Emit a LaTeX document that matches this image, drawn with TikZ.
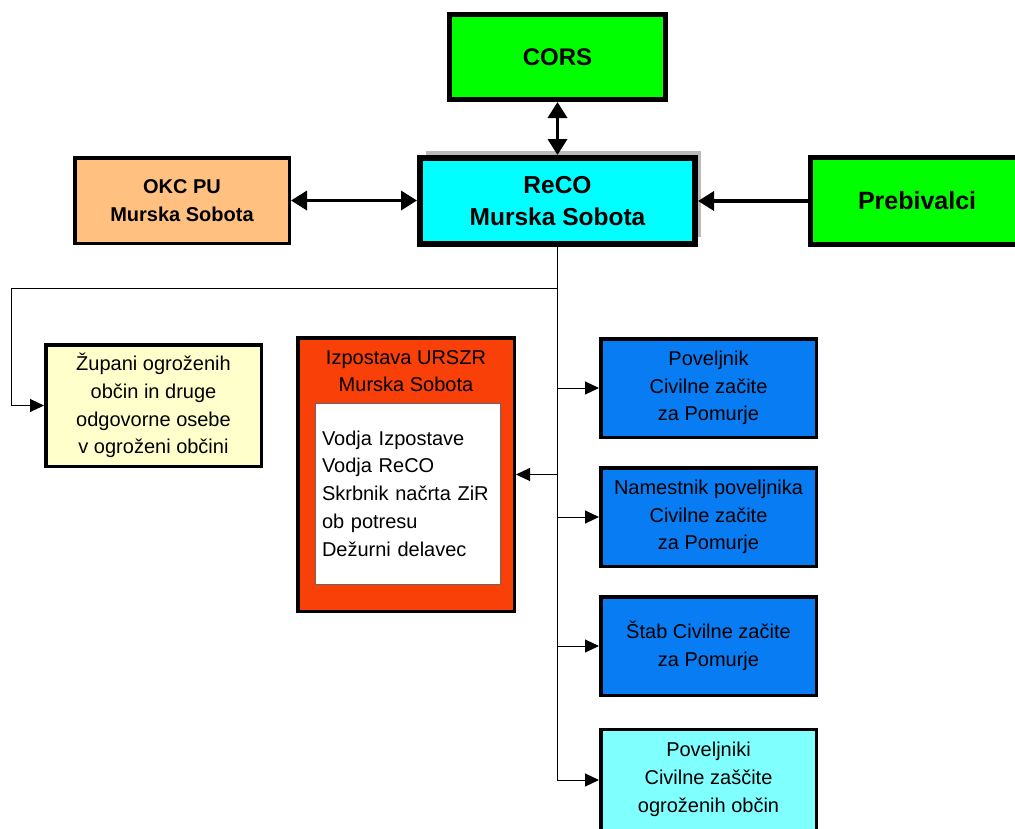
\documentclass[tikz,border=0pt]{standalone}
\usepackage{fontspec}
\setmainfont{Liberation Sans}
\usetikzlibrary{arrows.meta,shadows}
\definecolor{corsgreen}{RGB}{0,255,0}
\definecolor{recocyan}{RGB}{0,255,255}
\definecolor{okcorange}{RGB}{255,192,128}
\definecolor{zupyellow}{RGB}{255,255,204}
\definecolor{izpred}{RGB}{248,64,8}
\definecolor{csblue}{RGB}{8,124,242}
\definecolor{lightcyan}{RGB}{128,255,255}
\begin{document}
\begin{tikzpicture}[x=1pt,y=-1pt,
  box/.style={draw=black, rectangle, inner sep=0pt, align=center},
  thickbox/.style={box, line width=5pt},
  midbox/.style={box, line width=3.5pt},
  regtext/.style={font=\fontsize{20}{27.7}\selectfont},
  bigarrow/.style={line width=3.5pt, -{Triangle[length=16pt,width=19pt]}},
  bigdarrow/.style={line width=3.5pt, {Triangle[length=16pt,width=19pt]}-{Triangle[length=16pt,width=19pt]}},
  thinarrow/.style={line width=1pt, -{Triangle[length=14pt,width=13pt]}},
  thinline/.style={line width=1pt}
]
\useasboundingbox (0,0) rectangle (1015,828);
\clip (0,0) rectangle (1015,828);

% top boxes
\node[thickbox, fill=corsgreen, minimum width=216pt, minimum height=85pt,
      font=\fontsize{24}{30}\selectfont\bfseries] (cors) at (557.5,57) {CORS};
\node[box, line width=6pt, fill=recocyan, minimum width=275pt, minimum height=86pt,
      drop shadow={shadow xshift=6pt, shadow yshift=7pt, fill=black!45, opacity=0.6},
      font=\fontsize{24.5}{32}\selectfont\bfseries] (reco) at (557.5,201) {ReCO\\Murska Sobota};
\node[midbox, fill=okcorange, minimum width=214.5pt, minimum height=85.5pt,
      font=\fontsize{20}{28}\selectfont\bfseries] (okc) at (182,200.5) {OKC PU\\Murska Sobota};
\node[thickbox, fill=corsgreen, minimum width=400pt, minimum height=87pt,
      text width=305pt, inner xsep=47.5pt, align=left,
      font=\fontsize{25}{30}\selectfont\bfseries] (preb) at (1010.5,201) {Prebivalci};

% left yellow box
\node[midbox, fill=zupyellow, minimum width=215.5pt, minimum height=121.5pt, regtext]
      (zup) at (153.5,405.5) {Župani ogroženih\\občin in druge\\odgovorne osebe\\v ogroženi občini};

% Izpostava
\node[midbox, fill=izpred, minimum width=216.5pt, minimum height=273.5pt] (izp) at (406,474.5) {};
\node[regtext, inner sep=0pt, align=center] (izptitle) at (406,371) {Izpostava URSZR\\Murska Sobota};
\node[draw=black!60, line width=0.8pt, fill=white, rectangle, inner xsep=7pt, inner ysep=0pt,
      text width=171pt, minimum height=181pt, align=left, regtext] (izpin) at (407.5,493.5)
      {Vodja Izpostave\\Vodja ReCO\\Skrbnik načrta ZiR\\ob potresu\\Dežurni delavec};

% right blue boxes
\node[midbox, fill=csblue, minimum width=215.5pt, minimum height=98.5pt, regtext]
      (b1) at (708.5,388) {Poveljnik\\Civilne začite\\za Pomurje};
\node[midbox, fill=csblue, minimum width=215.5pt, minimum height=98.5pt, regtext]
      (b2) at (708.5,517) {Namestnik poveljnika\\Civilne začite\\za Pomurje};
\node[midbox, fill=csblue, minimum width=215.5pt, minimum height=98.5pt, regtext]
      (b3) at (708.5,646) {Štab Civilne začite\\za Pomurje};
\node[midbox, fill=lightcyan, minimum width=215.5pt, minimum height=104pt, regtext]
      (b4) at (708.5,781.5) {Poveljniki\\Civilne zaščite\\ogroženih občin\vspace{4pt}};

% thick connectors
\draw[bigdarrow] (cors.south) -- (reco.north);
\draw[bigdarrow] (okc.east) -- (reco.west |- okc.east);
\draw[bigarrow] (preb.west) -- (reco.east |- preb.west);

% tree connectors
\coordinate (split) at (557.5,288);
\coordinate (leftcorner) at (11,288);
\coordinate (b4in) at (557.5,780);
\draw[thinline] (reco.south) -- (split);
\draw[thinarrow] (split) -- (leftcorner) |- (zup.west);
\draw[thinarrow] (split) |- (b4in -| b4.west);
\draw[thinarrow] (reco.south |- b1.west) -- (b1.west);
\draw[thinarrow] (reco.south |- b2.west) -- (b2.west);
\draw[thinarrow] (reco.south |- b3.west) -- (b3.west);
\draw[thinarrow] (reco.south |- izp.east) -- (izp.east);
\end{tikzpicture}
\end{document}
